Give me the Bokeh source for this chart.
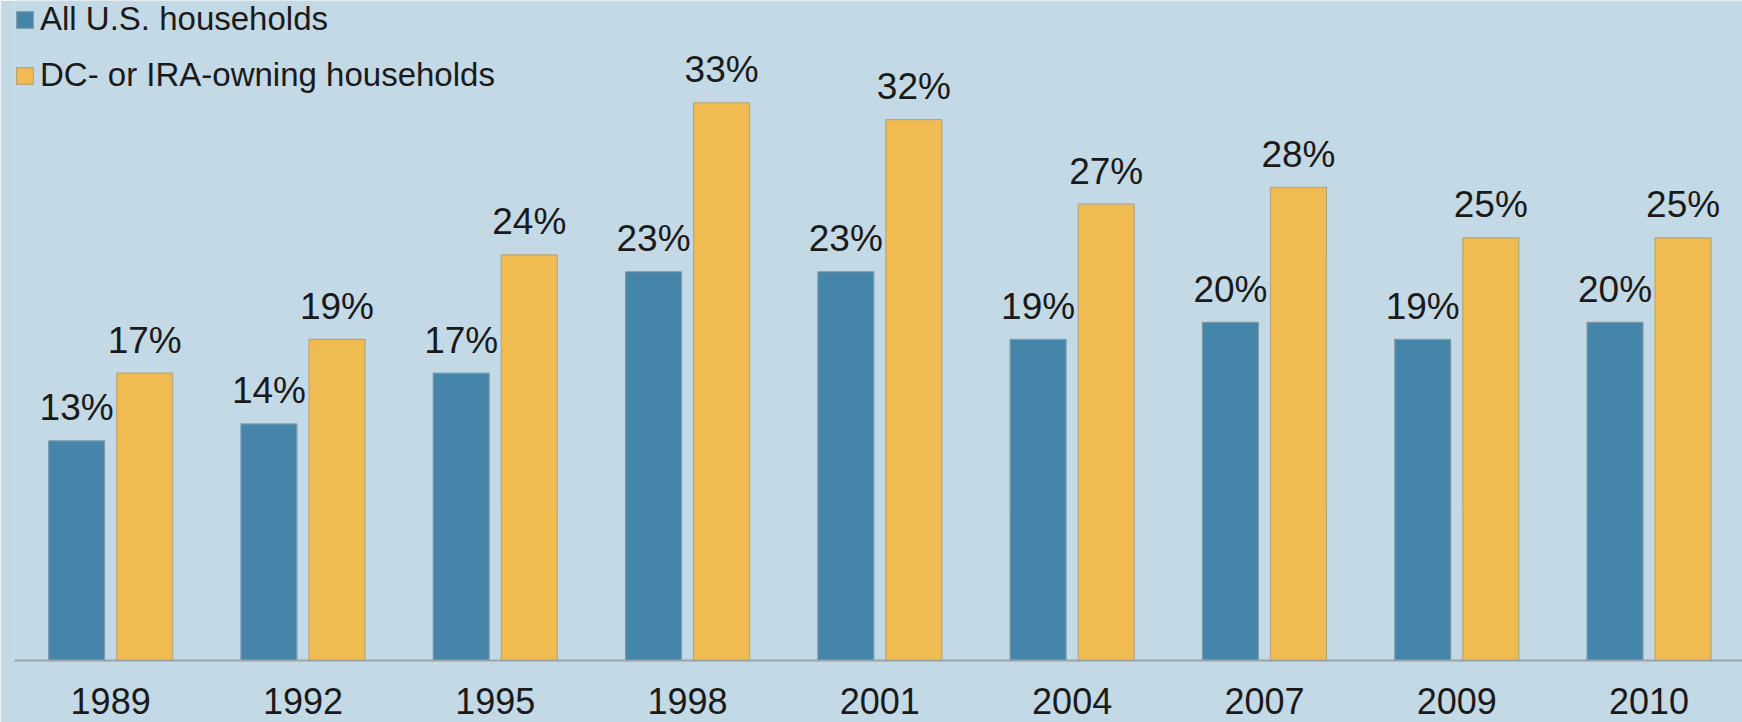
from bokeh.plotting import figure
from bokeh.models import ColumnDataSource, Range1d, FixedTicker, Legend, LegendItem
from bokeh.core.properties import value
from bokeh.transform import dodge
from bokeh.embed import file_html
from bokeh.resources import INLINE

years = ["1989", "1992", "1995", "1998", "2001", "2004", "2007", "2009", "2010"]
all_us = [13, 14, 17, 23, 23, 19, 20, 19, 20]
dc_ira = [17, 19, 24, 33, 32, 27, 28, 25, 25]
series_names = ["All U.S. households", "DC- or IRA-owning households"]

idx = list(range(len(years)))
src = ColumnDataSource(dict(
    x=idx, all_us=all_us, dc_ira=dc_ira,
    all_lbl=[f"{v}%" for v in all_us],
    dc_lbl=[f"{v}%" for v in dc_ira],
))

FONT = "Liberation Sans"
BG = "#c3d9e5"

p = figure(width=1742, height=722, output_backend="svg", toolbar_location=None,
           x_range=Range1d(-0.5, 8.486), y_range=Range1d(0, 39.05),
           min_border_left=14, min_border_right=0, min_border_top=0, min_border_bottom=62)
p.background_fill_color = BG
p.border_fill_color = BG
p.outline_line_color = None
p.grid.visible = False
p.yaxis.visible = False

off = 0.177
w = 0.291
r1 = p.vbar(x=dodge("x", -off), top="all_us", width=w, bottom=0, source=src,
            fill_color="#4585aa", line_color="#7f9aab", line_width=1.2)
r2 = p.vbar(x=dodge("x", off), top="dc_ira", width=w, bottom=0, source=src,
            fill_color="#f0bb50", line_color="#b7a57c", line_width=1.2)

p.text(x=dodge("x", -off), y="all_us", text="all_lbl", source=src,
       text_font=value(FONT), text_font_size="37px", text_color="#1a1a1a",
       text_align="center", text_baseline="alphabetic", y_offset=-33)
p.text(x=dodge("x", off), y="dc_ira", text="dc_lbl", source=src,
       text_font=value(FONT), text_font_size="37px", text_color="#1a1a1a",
       text_align="center", text_baseline="alphabetic", y_offset=-33)

ax = p.xaxis[0]
ax.ticker = FixedTicker(ticks=idx)
ax.major_label_overrides = {i: y for i, y in zip(idx, years)}
ax.major_tick_line_color = None
ax.minor_tick_line_color = None
ax.axis_line_color = "#9aa3a8"
ax.axis_line_width = 2
ax.major_label_text_font = FONT
ax.major_label_text_font_size = "36px"
ax.major_label_text_color = "#1a1a1a"
ax.major_label_standoff = 21

legend = Legend(items=[LegendItem(label=series_names[0], renderers=[r1]),
                       LegendItem(label=series_names[1], renderers=[r2])],
                location="top_left")
legend.background_fill_alpha = 0
legend.border_line_color = None
legend.label_text_font = FONT
legend.label_text_font_size = "33px"
legend.label_text_color = "#1a1a1a"
legend.glyph_width = 21
legend.glyph_height = 21
legend.margin = 0
legend.padding = 6
legend.spacing = 18
legend.label_standoff = 5
p.add_layout(legend)

open("out.html", "w").write(file_html(p, INLINE))
